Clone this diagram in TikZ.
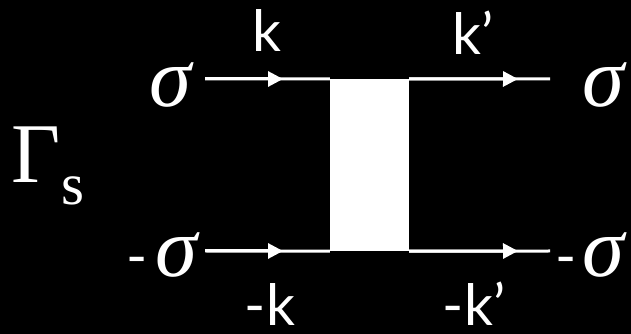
\documentclass[tikz,border=0pt]{standalone}
\usepackage{fontspec}
\setmainfont{Liberation Serif}
\newfontfamily\labelfont{Lato}
\usetikzlibrary{arrows.meta}

\begin{document}
\begin{tikzpicture}[x=1pt,y=1pt,
  line/.style={white,line width=3pt},
  head/.style={line,-{Triangle[length=15pt,width=15pt]}},
  sym/.style={white,inner sep=0pt,anchor=base,font=\fontsize{85}{90}\selectfont\itshape},
  mom/.style={white,inner sep=0pt,anchor=base,text depth=0pt,font=\labelfont\fontsize{57}{60}\selectfont},
  vertex/.style={fill=white,draw=none,minimum width=79pt,minimum height=172pt,inner sep=0pt}]
  \fill[black] (0,0) rectangle (631,334);
  \useasboundingbox (0,0) rectangle (631,334);

  % four-point vertex
  \node[vertex] (box) at (369.5,169) {};

  % external legs and the points of their arrowheads
  \coordinate (tl) at (205,255);
  \coordinate (tr) at (550,255);
  \coordinate (bl) at (205,83);
  \coordinate (br) at (550,83);
  \coordinate (atl) at (283,255);
  \coordinate (atr) at (518,255);
  \coordinate (abl) at (283,83);
  \coordinate (abr) at (518,83);

  \draw[line] (tl) -- (box.north west);
  \draw[line] (box.north east) -- (tr);
  \draw[line] (bl) -- (box.south west);
  \draw[line] (box.south east) -- (br);
  \draw[head] (tl) -- (atl);
  \draw[head] (box.north east) -- (atr);
  \draw[head] (bl) -- (abl);
  \draw[head] (box.south east) -- (abr);

  % spin labels
  \node[sym] (sTL) at (170,227) {σ};
  \node[sym] (sTR) at (603,227) {σ};
  \node[sym] (sBL) at (176,57) {σ};
  \node[sym] (sBR) at (603,57) {σ};
  \node[mom,anchor=base east] (mBL) at (148,57) {-};
  \node[mom,anchor=base east] (mBR) at (577,57) {-};

  % momentum labels
  \node[mom] (k) at (267,282) {k};
  \node[mom] (kp) at (473,279) {k’};
  \node[mom] (mk) at (270,8) {-k};
  \node[mom] (mkp) at (474,8) {-k’};

  % channel label
  \node[white,inner sep=0pt,anchor=base west,font=\fontsize{85}{90}\selectfont] (G) at (11,151) {Γ};
  \node[white,inner sep=0pt,anchor=base west,font=\fontsize{59}{62}\selectfont] (Gs) at (61,129) {s};
\end{tikzpicture}
\end{document}
